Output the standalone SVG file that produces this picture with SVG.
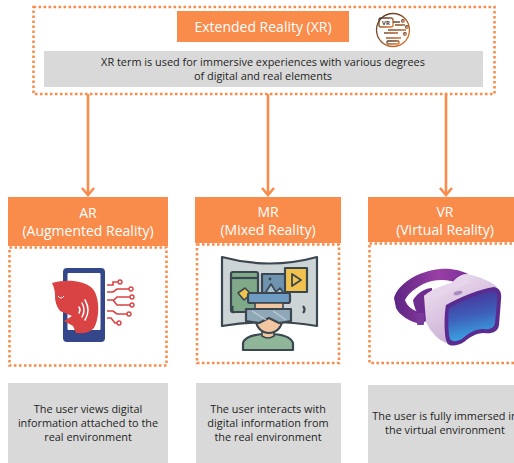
<svg xmlns="http://www.w3.org/2000/svg" width="514" height="463" viewBox="0 0 514 463">
  <defs>
    <style>
      .dots { fill: none; stroke: #F98C4B; stroke-width: 2.6; stroke-dasharray: 2.6 2.4; }
      .head { fill: #F98C4B; }
      .grey { fill: #D9D9D9; }
      .htxt { font-family: "Open Sans", "Liberation Sans", sans-serif; font-size: 14px; fill: #FFFFFF; text-anchor: middle; }
      .btxt { font-family: "Open Sans", "Liberation Sans", sans-serif; font-size: 10.9px; fill: #1E1E1E; text-anchor: middle; }
      .conn { fill: none; stroke: #F98C4B; stroke-width: 2.6; }
      .chev { fill: none; stroke: #F98C4B; stroke-width: 2.6; stroke-linejoin: miter; }
    </style>
    <linearGradient id="lens" x1="0" y1="0" x2="0.2" y2="1">
      <stop offset="0" stop-color="#4A2A92"/>
      <stop offset="0.55" stop-color="#3E5EB9"/>
      <stop offset="1" stop-color="#38A3E2"/>
    </linearGradient>
    <linearGradient id="strap" x1="0" y1="0" x2="1" y2="0">
      <stop offset="0" stop-color="#5C2483"/>
      <stop offset="0.6" stop-color="#9A3FA6"/>
      <stop offset="1" stop-color="#7A2F9A"/>
    </linearGradient>
    <linearGradient id="shell" x1="0" y1="0" x2="0.6" y2="1">
      <stop offset="0" stop-color="#F3E6F2"/>
      <stop offset="1" stop-color="#C6A9D3"/>
    </linearGradient>
    <linearGradient id="badge" x1="0" y1="0" x2="1" y2="1">
      <stop offset="0" stop-color="#4A3428"/>
      <stop offset="1" stop-color="#E07A2E"/>
    </linearGradient>
  </defs>

  <!-- Extended Reality (XR) overview -->
  <g id="xr">
    <rect class="dots" x="33.5" y="7" width="461" height="87"/>
    <rect class="head" x="177" y="11" width="172" height="31"/>
    <text class="htxt" x="263" y="31.5" font-size="14.8">Extended Reality (XR)</text>
    <g id="xr-badge" fill="none" stroke="url(#badge)" stroke-width="1.3">
      <circle cx="393" cy="30" r="16.5"/>
      <rect x="379" y="18" width="14" height="9" rx="2"/>
      <path d="M393,22 H400 M395,25 H405 M388,30 H406 M384,33 H398 M386,38 H401"/>
      <circle cx="403" cy="21" r="1.3"/>
      <circle cx="407" cy="27" r="1.3"/>
      <circle cx="405" cy="34" r="1.3"/>
      <rect x="387" y="41" width="12" height="3" rx="1"/>
      <text x="386" y="25" font-family="Open Sans, sans-serif" font-size="6" font-weight="bold" fill="#4A3428" stroke="none" text-anchor="middle">VR</text>
    </g>
    <rect class="grey" x="44" y="51" width="439" height="36"/>
    <text class="btxt" x="263" y="66" font-size="11">XR term is used for immersive experiences with various degrees</text>
    <text class="btxt" x="263" y="80" font-size="11">of digital and real elements</text>
  </g>

  <!-- connectors -->
  <g id="connectors">
    <path class="conn" d="M88,94 V195 M268,94 V195 M446,94 V195"/>
    <path class="chev" d="M82,188 L88,195 L94,188 M262,188 L268,195 L274,188 M440,188 L446,195 L452,188"/>
  </g>

  <!-- AR -->
  <g id="ar">
    <rect class="head" x="8" y="197" width="160" height="49"/>
    <text class="htxt" x="88" y="218">AR</text>
    <text class="htxt" x="88" y="236">(Augmented Reality)</text>
    <rect class="dots" x="9.5" y="247.5" width="157" height="118"/>
    <g id="ar-icon">
      <rect x="63" y="268" width="42" height="74" rx="4" fill="#34478A"/>
      <rect x="67.5" y="273" width="33" height="57" rx="1" fill="#FFFFFF"/>
      <!-- speaking head in profile -->
      <path d="M52,283 C66,279 83,280 92,288 C100,296 100,318 94,328 C89,333 83,334 76,333 L73,326 L64,321 L72,316 L60,311 C56,306 55,301 55,296 C55,291 54,287 52,283 Z" fill="#D94343"/>
      <path d="M58,296 Q61,300 64,296" fill="none" stroke="#FFFFFF" stroke-width="1"/>
      <g fill="none" stroke="#FFFFFF" stroke-width="1.5" stroke-linecap="round">
        <path d="M79,307 Q81,310 79,313"/>
        <path d="M82,303 Q86,310 82,317"/>
        <path d="M85,300 Q91,310 85,320"/>
      </g>
      <g fill="none" stroke="#D94343" stroke-width="1.6">
        <path d="M107,285 H113 V282 H118"/>
        <path d="M107,292 H113 L117,289 H129"/>
        <path d="M107,300 H114 L117,297 H130"/>
        <path d="M113,300 L117,305 H130"/>
        <path d="M107,311 H113 L117,314 H127"/>
        <path d="M107,318 H111 L115,323 H117"/>
      </g>
      <g fill="#FFFFFF" stroke="#D94343" stroke-width="1.4">
        <circle cx="120" cy="282" r="2"/>
        <circle cx="131" cy="289" r="2"/>
        <circle cx="132" cy="297" r="2"/>
        <circle cx="132" cy="305" r="2"/>
        <circle cx="129" cy="314" r="2"/>
        <circle cx="119" cy="323" r="2"/>
      </g>
    </g>
    <rect class="grey" x="8" y="383" width="160" height="80"/>
    <text class="btxt" x="88" y="413">The user views digital</text>
    <text class="btxt" x="88" y="427">information attached to the</text>
    <text class="btxt" x="88" y="441">real environment</text>
  </g>

  <!-- MR -->
  <g id="mr">
    <rect class="head" x="195" y="197" width="146" height="46"/>
    <text class="htxt" x="268" y="217">MR</text>
    <text class="htxt" x="268" y="235">(Mixed Reality)</text>
    <rect class="dots" x="197" y="244.5" width="142" height="118.5"/>
    <g id="mr-icon" stroke="#3B4750" stroke-width="2.2" stroke-linejoin="round">
      <path d="M222,257 Q270,270 317,257 V326 Q270,318 222,326 Z" fill="#CDD4D6"/>
      <rect x="231" y="272" width="27" height="40" rx="2" fill="#7FA989"/>
      <path d="M231,278 H258" fill="none"/>
      <rect x="262" y="274" width="24" height="22" fill="#6E93AE"/>
      <path d="M264,295 L271,284 L276,292 L280,288 L285,295" fill="#A7C2D2" stroke-width="1.6"/>
      <circle cx="270" cy="279" r="1.4" fill="#3B4750" stroke="none"/>
      <rect x="285" y="268" width="22" height="24" fill="#F2C24E"/>
      <path d="M292,274 L301,280 L292,286 Z" fill="#F2C24E" stroke-width="1.8"/>
      <path d="M238,293 L245,288 L251,294 L244,300 Z" fill="#F2C24E" stroke-width="1.6"/>
      <path d="M233,306 Q231,310 234,313 M303,306 Q306,310 303,313" fill="none"/>
      <path d="M243,350 V343 Q246,334 268,334 Q290,334 293,343 V350 Z" fill="#90B69A"/>
      <path d="M262,330 V336 Q268,340 274,336 V330 Z" fill="#F2C6A0" stroke-width="1.6"/>
      <ellipse cx="269" cy="320" rx="13" ry="13" fill="#F2C6A0"/>
      <rect x="248" y="293" width="42" height="10" rx="2" fill="#6E9CC2"/>
      <rect x="255" y="303" width="28" height="6" fill="#F2C6A0" stroke-width="1.6"/>
      <path d="M246,309 H291 V321 L279,323 L269,318 L259,323 L246,321 Z" fill="#8FA8B8"/>
      <path d="M252,311 L266,320 M273,311 L286,320" fill="none" stroke="#B9CAD4" stroke-width="1.4"/>
    </g>
    <rect class="grey" x="196" y="383" width="145" height="80"/>
    <text class="btxt" x="268" y="413">The user interacts with</text>
    <text class="btxt" x="268" y="427">digital information from</text>
    <text class="btxt" x="268" y="441">the real environment</text>
  </g>

  <!-- VR -->
  <g id="vr">
    <rect class="head" x="368" y="197" width="154" height="45"/>
    <text class="htxt" x="445" y="217">VR</text>
    <text class="htxt" x="445" y="235">(Virtual Reality)</text>
    <rect class="dots" x="369.5" y="243.5" width="155" height="119.5"/>
    <g id="vr-icon">
      <!-- head strap loop -->
      <path d="M394,298 C398,284 418,271 440,269 C452,268 462,271 468,274 L462,285 C452,280 442,279 432,281 C420,284 409,292 405,300 C407,306 412,310 421,313 L421,324 C410,322 399,315 396,308 Z" fill="url(#strap)"/>
      <!-- inner cushion -->
      <path d="M413,300 C418,292 426,288 432,288 L434,318 L424,322 C418,316 414,308 413,300 Z" fill="#6D2D90"/>
      <!-- shell -->
      <path d="M424,296 C432,289 444,285 452,283 C457,277 462,274 468,274 C480,277 490,281 497,287 L447,305 L446,343 C438,340 430,331 426,322 Z" fill="url(#shell)"/>
      <path d="M424,296 C432,289 444,285 452,283 C457,277 462,274 468,274 L470,283 C460,286 448,292 440,296 Z" fill="#E7D5EC"/>
      <!-- side clip -->
      <rect x="417" y="313" width="7" height="12" rx="1" fill="#7A3A9A"/>
      <!-- front rim and lens -->
      <path d="M446,305 C462,296 480,289 494,287 C500,288 502,293 501,300 L499,325 C498,332 492,334 484,333 C476,333 470,337 464,342 C458,346 450,347 447,343 C444,336 444,315 446,305 Z" fill="#5B2B8F"/>
      <path d="M449,308 C463,300 480,293 493,291 C497,292 498,296 497,302 L495,323 C494,328 490,330 483,329 C475,329 469,333 463,338 C458,342 452,342 450,339 C448,333 448,316 449,308 Z" fill="url(#lens)"/>
      <ellipse cx="458" cy="293" rx="4.5" ry="2" fill="#A98BBF" transform="rotate(-15 458 293)"/>
    </g>
    <rect class="grey" x="368" y="385" width="154" height="78"/>
    <text class="btxt" x="445" y="420">The user is fully immersed in</text>
    <text class="btxt" x="445" y="434">the virtual environment</text>
  </g>
</svg>
